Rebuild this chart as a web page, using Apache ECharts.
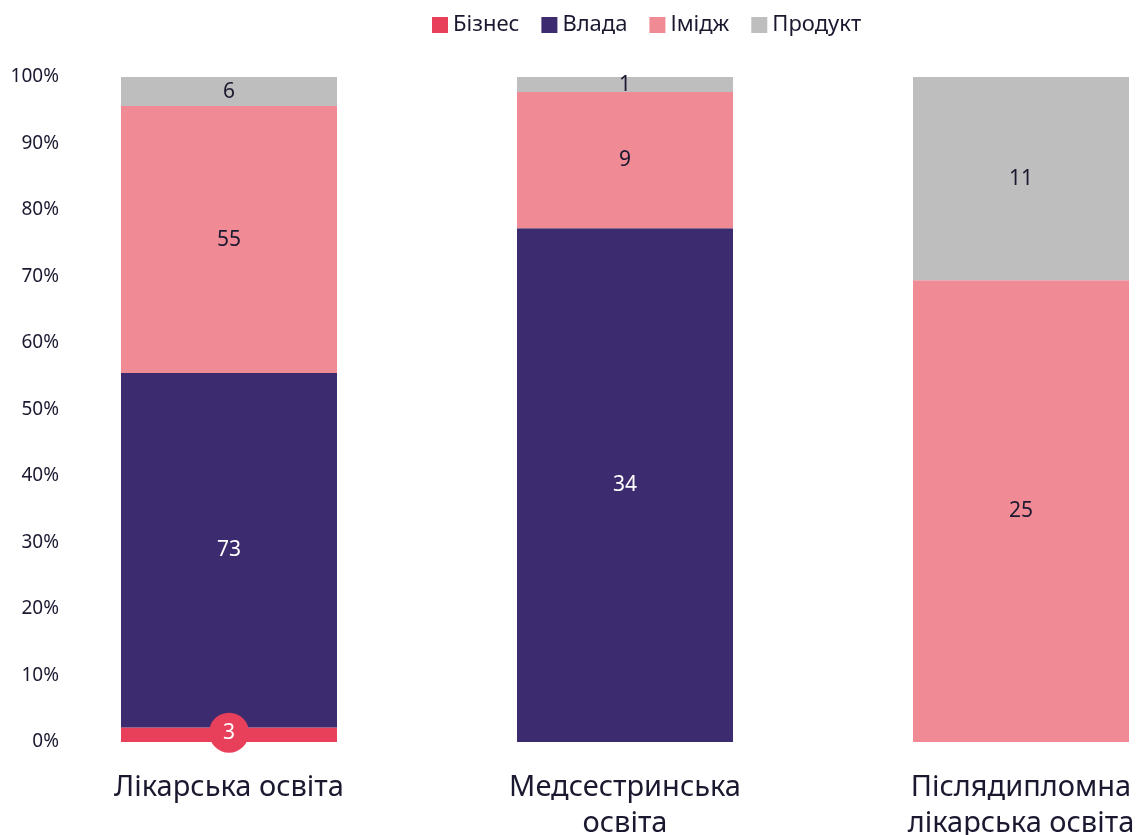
<!DOCTYPE html>
<html>
<head>
<meta charset="utf-8">
<script src="https://cdn.jsdelivr.net/npm/echarts@6/dist/echarts.min.js"></script>
<style>
  html, body { margin: 0; padding: 0; background: #ffffff; }
  #chart { width: 1146px; height: 835px; }
</style>
</head>
<body>
<div id="chart"></div>
<script>
// Categories (education types)
const categories = ['Лікарська освіта', 'Медсестринська\nосвіта', 'Післядипломна\nлікарська освіта'];

// Counts per category for each theme
const seriesNames = ['Бізнес', 'Влада', 'Імідж', 'Продукт'];
const business = [3, 0, 0];
const power = [73, 34, 0];
const image = [55, 9, 25];
const product = [6, 1, 11];

const yTicks = { min: 0, max: 100, interval: 10 };

const colors = ['#e8405a', '#3c2b6f', '#f08a94', '#bebebe'];
const textDark = '#1a1930';
const fontFamily = '"Noto Sans", Lato, sans-serif';

const allCounts = [business, power, image, product];
const totals = categories.map((_, i) => allCounts.reduce((s, arr) => s + arr[i], 0));

// Each segment is drawn as its share of the category total; the label shows the count
function toShares(arr) {
  return arr.map((v, i) => v > 0 ? { value: v / totals[i] * 100, count: v } : null);
}

const labelColors = ['#ffffff', '#ffffff', textDark, textDark];

const series = allCounts.map((arr, k) => {
  const s = {
    name: seriesNames[k],
    type: 'bar',
    stack: 'total',
    barWidth: 216,
    data: toShares(arr),
    itemStyle: { color: colors[k] },
    label: {
      show: true,
      position: 'inside',
      formatter: p => p.data ? String(p.data.count) : '',
      color: labelColors[k],
      fontFamily: fontFamily,
      fontSize: 21
    }
  };
  if (k === 0) {
    // small segment: count sits in a round badge
    s.label = Object.assign(s.label, {
      backgroundColor: colors[0],
      width: 40,
      height: 40,
      lineHeight: 40,
      borderRadius: 20,
      align: 'center',
      offset: [0, -2]
    });
  }
  return s;
});

const chart = echarts.init(document.getElementById('chart'), null, { renderer: 'canvas' });
chart.setOption({
  animation: false,
  backgroundColor: '#ffffff',
  color: colors,
  legend: {
    data: seriesNames,
    top: 9,
    left: 427,
    icon: 'rect',
    itemWidth: 16,
    itemHeight: 16,
    itemGap: 22,
    itemTextGap: 6,
    textStyle: { fontFamily: fontFamily, fontSize: 22, color: textDark }
  },
  grid: { left: 31, width: 1188, top: 77, bottom: 93, containLabel: false, outerBoundsMode: 'none' },
  xAxis: {
    type: 'category',
    data: categories,
    axisLine: { show: false },
    axisTick: { show: false },
    axisLabel: {
      fontFamily: fontFamily,
      fontSize: 29,
      lineHeight: 36,
      color: textDark,
      margin: 28,
      interval: 0
    }
  },
  yAxis: {
    type: 'value',
    min: yTicks.min,
    max: yTicks.max,
    interval: yTicks.interval,
    offset: -36,
    axisLine: { show: false },
    axisTick: { show: false },
    splitLine: { show: false },
    axisLabel: {
      formatter: '{value}%',
      fontFamily: fontFamily,
      fontSize: 19,
      color: textDark,
      margin: 8,
      padding: [0, 0, 14, 0]
    }
  },
  series: series
});
</script>
</body>
</html>
